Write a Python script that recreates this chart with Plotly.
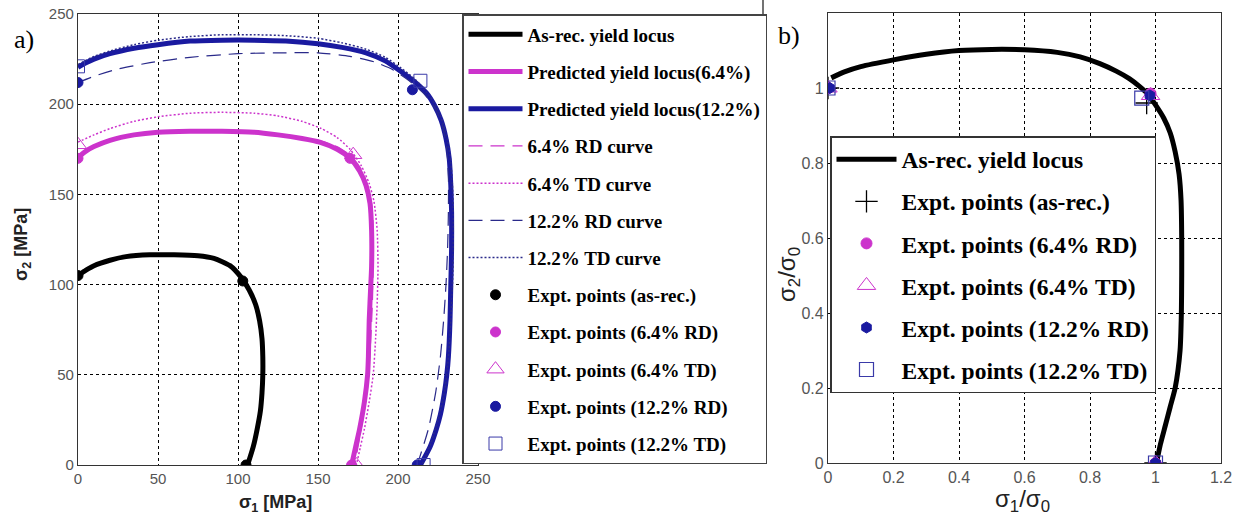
import plotly.graph_objects as go

# ---------------- Panel a data (sigma1, sigma2 in MPa) ----------------
asrec_x = [0, 5, 10, 20, 30, 45, 60, 75, 85, 95, 102, 107, 111, 113.5, 115, 115.5, 115.5, 115, 114, 112, 109.5, 106]
asrec_y = [105, 108, 110.5, 113.5, 115.5, 116.5, 116.5, 116, 114.5, 110.5, 104, 97, 89, 80, 70, 60, 50, 40, 30, 20, 10, 0]

pred64_x = [0, 5, 10, 20, 35, 50, 70, 90, 110, 125, 140, 151, 162, 170, 176, 180, 182.5, 183.5, 183.5, 183, 182, 181.5, 181, 179, 176, 173.5, 171]
pred64_y = [170.5, 174, 176.5, 180, 183, 184.5, 185, 185, 184.5, 183, 181, 179, 175, 170, 163, 155, 145, 130, 110, 100, 80, 60, 50, 35, 20, 10, 0]

rd64_x = [0, 10, 20, 35, 50, 70, 90, 110, 125, 140, 152, 163, 171, 177, 181, 183.5, 184.5, 184.5, 184, 183, 181.5, 179, 176, 173]
rd64_y = [171, 177, 180.5, 183.5, 185, 185.5, 185.5, 185, 183.5, 181.5, 179.5, 176, 171, 164, 155, 145, 130, 110, 90, 70, 50, 30, 15, 0]

td64_x = [0, 10, 20, 35, 50, 70, 90, 110, 125, 140, 152, 162, 170, 177, 182, 185, 187, 187.5, 187, 186, 184.5, 182, 179, 176.5, 174]
td64_y = [179, 183, 186.5, 190.5, 193, 195, 195.5, 195, 193.5, 190.5, 186.5, 181.5, 175, 166, 156, 146, 130, 110, 90, 70, 50, 35, 20, 10, 0]

pred122_x = [0, 5, 10, 20, 35, 50, 70, 90, 110, 130, 150, 165, 180, 192, 202, 211, 218, 223, 227, 230, 232, 233, 233.5, 233.5, 233, 232.5, 231.5, 230.5, 229, 226.5, 224, 220, 214]
pred122_y = [220.5, 223, 225, 228, 231, 233, 235, 235.5, 235.5, 235, 233.5, 231.5, 228.5, 224, 218, 212, 206, 199, 191, 181, 170, 155, 140, 120, 100, 80, 60, 50, 40, 28, 20, 10, 0]

rd122_x = [0, 10, 25, 45, 70, 100, 130, 150, 170, 185, 197, 207, 216, 223, 227.5, 230.5, 231.5, 231.5, 231, 230, 228.5, 226.5, 223.5, 219, 212]
rd122_y = [212, 215.5, 219.5, 223, 226, 228, 228.5, 228.5, 226.5, 223.5, 219, 213, 206, 198, 189, 175, 160, 140, 120, 100, 80, 60, 40, 20, 0]

td122_x = [0, 10, 20, 35, 50, 70, 90, 110, 130, 150, 165, 180, 192, 202, 211, 218, 224, 228, 231, 233, 234, 234.5, 234.5, 234, 233, 231.5, 229, 225, 220.5, 215]
td122_y = [222, 226.5, 229.5, 233, 235.5, 237.5, 238.5, 238.5, 238, 236.5, 234, 230.5, 226, 220, 213.5, 206.5, 199, 190, 180, 168, 155, 140, 120, 100, 80, 60, 40, 25, 12, 0]

pts_asrec_x = [0, 103, 105]
pts_asrec_y = [105, 102, 0]
pts_rd64_x = [0, 170, 171]
pts_rd64_y = [170, 170, 0]
pts_td64_x = [0, 172, 174]
pts_td64_y = [177.5, 172, 0]
pts_rd122_x = [0, 209, 212]
pts_rd122_y = [212, 208, 0]
pts_td122_x = [0, 214, 216]
pts_td122_y = [221, 213, 0]

# ---------------- Panel b data (normalised) ----------------
nb_x = [0.01, 0.05, 0.1, 0.2, 0.3, 0.4, 0.5, 0.6, 0.7, 0.77, 0.83, 0.88, 0.92, 0.95, 0.975, 1.0, 1.025, 1.045, 1.06, 1.072, 1.078, 1.08, 1.08, 1.079, 1.075, 1.06, 1.045, 1.03, 1.015, 1.003]
nb_y = [1.027, 1.043, 1.057, 1.075, 1.09, 1.1, 1.103, 1.102, 1.095, 1.083, 1.065, 1.045, 1.025, 1.005, 0.985, 0.955, 0.92, 0.88, 0.83, 0.77, 0.7, 0.6, 0.5, 0.4, 0.3, 0.2, 0.15, 0.1, 0.05, 0]

nb_asrec_x = [0, 0.973, 1.0]
nb_asrec_y = [1.0, 0.96, 0]
nb_rd64_x = [0, 0.985, 1.0]
nb_rd64_y = [1.0, 0.985, 0]
nb_td64_x = [0, 0.985, 1.0]
nb_td64_y = [1.0, 0.98, 0]
nb_rd122_x = [0.005, 0.983, 1.0]
nb_rd122_y = [1.0, 0.98, 0]
nb_td122_x = [0, 0.958, 1.0]
nb_td122_y = [1.0, 0.973, 0]

ticks_a = [0, 50, 100, 150, 200, 250]
ticks_bx = [0, 0.2, 0.4, 0.6, 0.8, 1.0, 1.2]
ticks_by = [0, 0.2, 0.4, 0.6, 0.8, 1.0]

MAG = "#CC33CC"
NAVY = "#1A1AA0"
NAVY_T = "#2A2A8A"
NAVY_SQ = "#3A3AA8"

W, H = 1242, 520
def px(x):
    return x / W
def py(y):
    return 1 - y / H

fig = go.Figure()

def line(x, y, name, color, width, dash="solid", legend="legend", xa="x", ya="y"):
    fig.add_trace(go.Scatter(x=x, y=y, mode="lines", name=name, legend=legend,
                             legendgroup=name + legend, xaxis=xa, yaxis=ya,
                             line=dict(color=color, width=width, dash=dash, shape="spline", smoothing=0.6)))

def pts(x, y, name, symbol, color, size, legend="legend", xa="x", ya="y", lw=1):
    fig.add_trace(go.Scatter(x=x, y=y, mode="markers", name=name, legend=legend,
                             legendgroup=name + legend, xaxis=xa, yaxis=ya,
                             marker=dict(symbol=symbol, color=color, size=size,
                                         line=dict(color=color, width=lw))))

# Panel a
line(asrec_x, asrec_y, "As-rec. yield locus", "black", 5)
line(pred64_x, pred64_y, "Predicted yield locus(6.4%)", MAG, 5)
line(pred122_x, pred122_y, "Predicted yield locus(12.2%)", NAVY, 5)
line(rd64_x, rd64_y, "6.4% RD curve", MAG, 1.2, "14px,8px")
line(td64_x, td64_y, "6.4% TD curve", MAG, 1.5, "2px,2px")
line(rd122_x, rd122_y, "12.2% RD curve", NAVY_T, 1.2, "14px,8px")
line(td122_x, td122_y, "12.2% TD curve", NAVY_T, 1.5, "2px,2px")
pts(pts_asrec_x, pts_asrec_y, "Expt. points (as-rec.)", "circle", "black", 10)
pts(pts_rd64_x, pts_rd64_y, "Expt. points (6.4% RD)", "circle", MAG, 10)
pts(pts_td64_x, pts_td64_y, "Expt. points (6.4% TD)", "triangle-up-open", MAG, 15)
pts(pts_rd122_x, pts_rd122_y, "Expt. points (12.2% RD)", "circle", NAVY, 10)
pts(pts_td122_x, pts_td122_y, "Expt. points (12.2% TD)", "square-open", NAVY_SQ, 13)

# Panel b
line(nb_x, nb_y, "As-rec. yield locus", "black", 5, legend="legend2", xa="x2", ya="y2")
pts(nb_asrec_x, nb_asrec_y, "Expt. points (as-rec.)", "cross-thin-open", "black", 16, "legend2", "x2", "y2", 1.3)
pts(nb_rd64_x, nb_rd64_y, "Expt. points (6.4% RD)", "circle", MAG, 11, "legend2", "x2", "y2")
pts(nb_td64_x, nb_td64_y, "Expt. points (6.4% TD)", "triangle-up-open", MAG, 16, "legend2", "x2", "y2")
pts(nb_rd122_x, nb_rd122_y, "Expt. points (12.2% RD)", "hexagon", NAVY, 11, "legend2", "x2", "y2")
pts(nb_td122_x, nb_td122_y, "Expt. points (12.2% TD)", "square-open", NAVY_SQ, 14, "legend2", "x2", "y2", 1.2)

axis_common = dict(showgrid=True, gridcolor="black", griddash="dot", gridwidth=1,
                   zeroline=False, showline=True, linecolor="#333", linewidth=1.2, mirror=True,
                   ticks="", tickfont=dict(family="Liberation Sans, Arial", size=15, color="#555"))

fig.update_layout(
    width=W, height=H, margin=dict(l=0, r=0, t=0, b=0, autoexpand=False),
    paper_bgcolor="white", plot_bgcolor="white", showlegend=True,
    xaxis=dict(domain=[px(78), px(478)], range=[0, 250], tickvals=ticks_a, anchor="y", **axis_common),
    yaxis=dict(domain=[py(465), py(14)], range=[0, 250], tickvals=ticks_a, anchor="x", **axis_common),
    xaxis2=dict(domain=[px(828), px(1221)], range=[0, 1.2], tickvals=ticks_bx,
                ticktext=["0", "0.2", "0.4", "0.6", "0.8", "1", "1.2"], anchor="y2", **axis_common),
    yaxis2=dict(domain=[py(463), py(13)], range=[0, 1.2], tickvals=ticks_by,
                ticktext=["0", "0.2", "0.4", "0.6", "0.8", "1"], anchor="x2", **axis_common),
    legend=dict(x=px(462), y=py(14), xanchor="left", yanchor="top", bgcolor="white",
                bordercolor="#444", borderwidth=1.5, traceorder="grouped", tracegroupgap=9.5,
                itemwidth=54, font=dict(family="Liberation Serif, Times New Roman", size=19, color="black", weight="bold")),
    legend2=dict(x=px(830), y=py(136), xanchor="left", yanchor="top", bgcolor="white",
                 bordercolor="#333", borderwidth=1.5, traceorder="grouped", tracegroupgap=8.5,
                 itemwidth=60, font=dict(family="Liberation Serif, Times New Roman", size=23.5, color="black", weight="bold")),
)
fig.update_xaxes(tickfont=dict(size=16), selector=dict(anchor="y2"))
fig.update_yaxes(tickfont=dict(size=16), selector=dict(anchor="x2"))

ann = [
    dict(x=px(12), y=py(40), text="a)", font=dict(family="Liberation Serif", size=26, color="black")),
    dict(x=px(776), y=py(36), text="b)", font=dict(family="Liberation Serif", size=26, color="black")),
    dict(x=px(275), y=py(503), text="<b>σ<sub>1</sub> [MPa]</b>", font=dict(family="Liberation Sans", size=18, color="#222")),
    dict(x=px(22), y=py(245), text="<b>σ<sub>2</sub> [MPa]</b>", textangle=-90, font=dict(family="Liberation Sans", size=18, color="#222")),
    dict(x=px(1022), y=py(500), text="σ<sub>1</sub>/σ<sub>0</sub>", font=dict(family="Liberation Sans", size=24, color="#222")),
    dict(x=px(788), y=py(275), text="σ<sub>2</sub>/σ<sub>0</sub>", textangle=-90, font=dict(family="Liberation Sans", size=24, color="#222")),
]
for a in ann:
    a.update(xref="paper", yref="paper", showarrow=False, xanchor="left" if a["text"] in ("a)", "b)") else "center", yanchor="middle")
fig.update_layout(annotations=ann)

fig.add_shape(type="line", xref="paper", yref="paper", x0=px(763), x1=px(763), y0=1, y1=py(14),
              line=dict(color="#444", width=1.5))

fig.write_html("out.html")
